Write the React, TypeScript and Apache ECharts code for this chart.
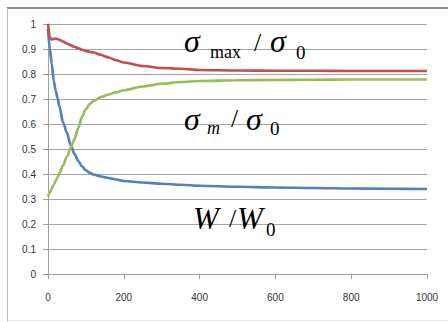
import React, { useEffect, useRef } from "react";
import * as echarts from "echarts";

const xValues = [0, 5, 10, 15, 20, 25, 30, 40, 50, 60, 70, 80, 90, 100, 110, 120, 140, 160, 180, 200, 250, 300, 350, 400, 500, 600, 700, 800, 900, 1000];
const sigmaMaxRatio = [1.0, 0.945, 0.938, 0.94, 0.942, 0.94, 0.937, 0.93, 0.922, 0.915, 0.909, 0.903, 0.897, 0.892, 0.889, 0.886, 0.876, 0.866, 0.855, 0.846, 0.832, 0.824, 0.821, 0.816, 0.814, 0.813, 0.813, 0.812, 0.812, 0.812];
const sigmaMRatio = [0.31, 0.326, 0.342, 0.357, 0.372, 0.387, 0.402, 0.435, 0.47, 0.505, 0.54, 0.585, 0.63, 0.66, 0.68, 0.692, 0.708, 0.718, 0.727, 0.735, 0.75, 0.761, 0.768, 0.772, 0.775, 0.776, 0.777, 0.778, 0.778, 0.778];
const wRatio = [0.98, 0.9, 0.84, 0.775, 0.735, 0.705, 0.67, 0.605, 0.565, 0.515, 0.48, 0.452, 0.43, 0.415, 0.405, 0.398, 0.39, 0.384, 0.378, 0.372, 0.366, 0.361, 0.357, 0.353, 0.349, 0.346, 0.344, 0.342, 0.341, 0.34];

const pairs = (ys: number[]) => xValues.map((x, i) => [x, ys[i]]);

const SERIF = "'Liberation Serif', 'Times New Roman', serif";

function t(x: number, y: number, text: string, size: number, italic: boolean) {
  return {
    type: "text",
    x,
    y,
    style: {
      text,
      font: `${italic ? "italic " : ""}${size}px ${SERIF}`,
      fill: "#000",
      textVerticalAlign: "middle",
      textAlign: "left",
    },
    z: 100,
  };
}

export default function App() {
  const ref = useRef<HTMLDivElement>(null);
  useEffect(() => {
    if (!ref.current) return;
    const chart = echarts.init(ref.current, null, { renderer: "svg" });
    const lineCommon = {
      type: "line",
      showSymbol: false,
      symbol: "none",
      smooth: 0.3,
      smoothMonotone: "x",
    };
    chart.setOption({
      animation: false,
      backgroundColor: "#fff",
      grid: { left: 48, right: 21, top: 24, height: 250 },
      xAxis: {
        type: "value",
        min: 0,
        max: 1000,
        interval: 200,
        axisLine: { show: true, lineStyle: { color: "#a0a0a0" } },
        axisTick: { show: true, length: 5, lineStyle: { color: "#a0a0a0" } },
        axisLabel: {
          margin: 18,
          fontSize: 10,
          color: "#333",
          fontFamily: "'Liberation Sans', Arial, sans-serif",
          formatter: (v: number) => String(v),
        },
        splitLine: { show: false },
      },
      yAxis: {
        type: "value",
        min: 0,
        max: 1,
        interval: 0.1,
        axisLine: { show: true, lineStyle: { color: "#a0a0a0" } },
        axisTick: { show: true, length: 5, lineStyle: { color: "#a0a0a0" } },
        axisLabel: { margin: 12, fontSize: 10, color: "#333", fontFamily: "'Liberation Sans', Arial, sans-serif" },
        splitLine: { show: true, lineStyle: { color: "#a6a6a6" } },
      },
      series: [
        { ...lineCommon, name: "W/W0", data: pairs(wRatio), color: "#4F81BD", lineStyle: { width: 2.7, color: "#4F81BD" } },
        { ...lineCommon, name: "σmax/σ0", data: pairs(sigmaMaxRatio), color: "#C0504D", lineStyle: { width: 2.7, color: "#C0504D" } },
        { ...lineCommon, name: "σm/σ0", data: pairs(sigmaMRatio), color: "#9BBB59", lineStyle: { width: 2.7, color: "#9BBB59" } },
      ],
      graphic: [
        { type: "line", shape: { x1: 7, y1: 8, x2: 448, y2: 8 }, style: { stroke: "#8a8a8a", lineWidth: 2 } },
        { type: "line", shape: { x1: 7.5, y1: 8, x2: 7.5, y2: 322 }, style: { stroke: "#bdbdbd", lineWidth: 1 } },
        { type: "line", shape: { x1: 7, y1: 320.5, x2: 448, y2: 320.5 }, style: { stroke: "#e6e6e6", lineWidth: 1 } },
        t(184, 41, "σ", 32, true),
        t(210, 52, "max", 18, false),
        t(254, 42, "/", 26, false),
        t(270, 41, "σ", 32, true),
        t(296, 52, "0", 19, false),
        t(184, 119, "σ", 32, true),
        t(207, 128, "m", 18, true),
        t(231, 118, "/", 26, false),
        t(246, 119, "σ", 32, true),
        t(270, 128, "0", 19, false),
        t(193, 218, "W", 31, true),
        t(229, 218, "/", 26, false),
        t(237, 218, "W", 31, true),
        t(266, 229, "0", 19, false),
      ],
    });
    return () => chart.dispose();
  }, []);
  return (
    <div
      ref={ref}
      style={{ position: "fixed", left: 0, top: 0, width: 448, height: 322, background: "#fff" }}
    />
  );
}
